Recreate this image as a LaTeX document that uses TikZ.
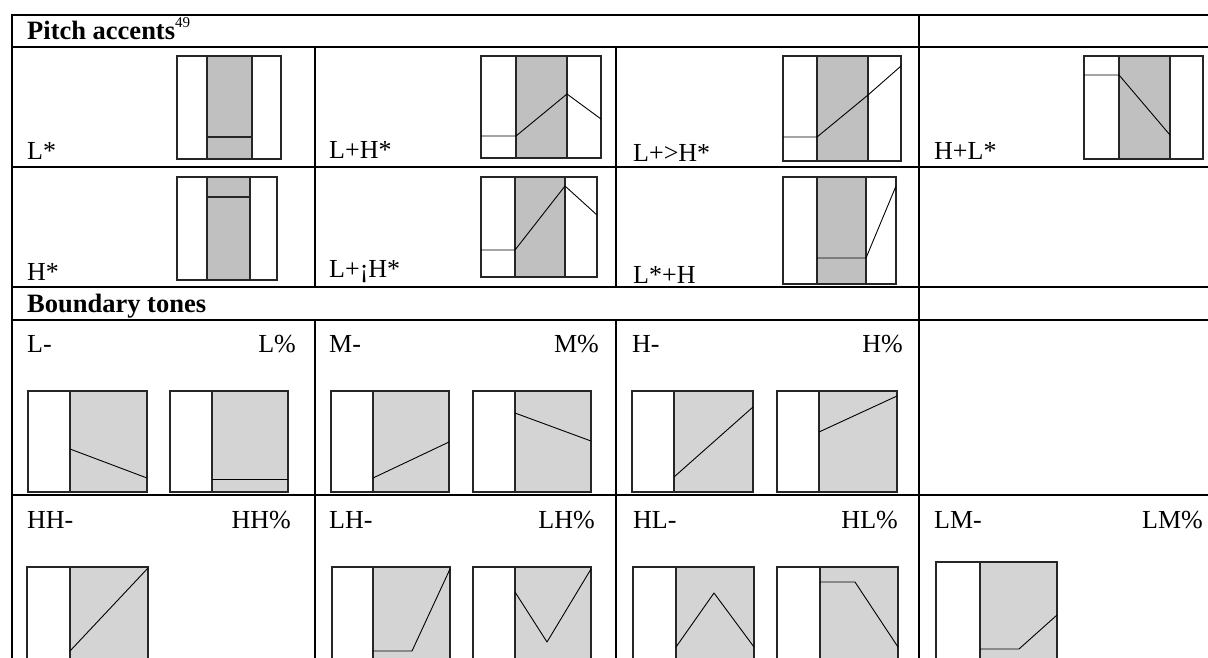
\documentclass[tikz,border=0pt]{standalone}
\usepackage{fontspec}
\setmainfont{Liberation Serif}
\definecolor{pagray}{HTML}{C0C0C0}
\definecolor{btgray}{HTML}{D4D4D4}
% pitch-accent frame: x1 x2 y1 y2, shaded column g1..g2
\newcommand\pabox[6]{%
  \fill[pagray] (#5,#3) rectangle (#6,#4);
  \draw[frame] (#1,#3) rectangle (#2,#4);
  \draw[frame] (#5,#3) -- (#5,#4) (#6,#3) -- (#6,#4);
}
% boundary-tone frame: x1 x2 y1 y2, shaded from g to the right edge
\newcommand\btbox[5]{%
  \fill[btgray] (#5,#3) rectangle (#2,#4);
  \draw[frame] (#1,#3) rectangle (#2,#4);
  \draw[frame] (#5,#3) -- (#5,#4);
}
\begin{document}
\begin{tikzpicture}[x=1pt,y=-1pt,
  rule/.style={line width=1.6pt},
  frame/.style={draw=black!85, line width=1.1pt},
  contour/.style={draw=black, line width=0.9pt, line join=round},
  lab/.style={inner sep=0pt, font=\fontsize{26}{30}\selectfont},
  head/.style={inner sep=0pt, font=\fontsize{26.5}{30}\selectfont\bfseries},
]
\useasboundingbox (0,0) rectangle (1208,657);
\clip (0,0) rectangle (1208,657);

% ---- table rules ----
\foreach \yy in {15,47,167,287,320,495}
  \draw[rule] (12,\yy) -- (1210,\yy);
\draw[rule] (12,14.2) -- (12,660);
\draw[rule] (919,14.2) -- (919,660);
\foreach \xx in {315,616} {
  \draw[rule] (\xx,47) -- (\xx,287);
  \draw[rule] (\xx,320) -- (\xx,660);
}

% ---- headers ----
\node[head, anchor=base west] (pitchhead) at (27,39.5)
  {Pitch accents\raisebox{12pt}{\fontsize{15}{15}\selectfont\mdseries 49}};
\node[head, anchor=base west] (boundhead) at (27,312) {Boundary tones};

% ---- pitch accents, first row ----
\node[lab, anchor=base west] (lstar) at (27,159) {L*};
\pabox{177}{281}{56}{159}{207}{252}
\draw[frame] (207,137) -- (252,137);

\node[lab, anchor=base west] (lhstar) at (329,158) {L+H*};
\pabox{481}{601}{56}{158}{516}{567}
\draw[contour] (481,136) -- (516,136) -- (567,94) -- (601,119);

\node[lab, anchor=base west] (lgthstar) at (633,161) {L+>H*};
\pabox{783}{901}{56}{161}{817}{868}
\draw[contour] (783,137) -- (817,137) -- (868,95) -- (901,66);

\node[lab, anchor=base west] (hlstar) at (934,159) {H+L*};
\pabox{1084}{1203}{56}{159}{1119}{1170}
\draw[contour] (1084,75) -- (1119,75) -- (1170,135);

% ---- pitch accents, second row ----
\node[lab, anchor=base west] (hstar) at (27,280) {H*};
\pabox{177}{277}{177}{280}{207}{250}
\draw[frame] (207,197) -- (250,197);

\node[lab, anchor=base west] (ldhstar) at (329,277) {L+¡H*};
\pabox{481}{597}{177}{277}{515}{565}
\draw[contour] (481,250) -- (515,250) -- (565,186) -- (597,215);

\node[lab, anchor=base west] (lstarh) at (633,283) {L*+H};
\pabox{783}{896}{177}{284}{817}{866}
\draw[contour] (817,258) -- (866,258) -- (896,186);

% ---- boundary tones, simple ----
\node[lab, anchor=base west] (lminus) at (27,352) {L-};
\node[lab, anchor=base east] (lpct) at (296,352) {L\%};
\btbox{28}{147}{391}{492}{70}
\draw[contour] (70,449) -- (147,478);
\btbox{170}{288}{391}{492}{212}
\draw[contour] (212,479) -- (288,479);

\node[lab, anchor=base west] (mminus) at (329,352) {M-};
\node[lab, anchor=base east] (mpct) at (599,352) {M\%};
\btbox{331}{449}{391}{492}{373}
\draw[contour] (373,478) -- (449,442);
\btbox{473}{591}{391}{492}{515}
\draw[contour] (515,413) -- (591,441);

\node[lab, anchor=base west] (hminus) at (632,352) {H-};
\node[lab, anchor=base east] (hpct) at (903,352) {H\%};
\btbox{632}{753}{391}{492}{674}
\draw[contour] (674,477) -- (753,407);
\btbox{777}{897}{391}{492}{819}
\draw[contour] (819,432) -- (897,396);

% ---- boundary tones, complex ----
\node[lab, anchor=base west] (hhminus) at (27,528) {HH-};
\node[lab, anchor=base east] (hhpct) at (291,528) {HH\%};
\btbox{27}{148}{567}{668}{70}
\draw[contour] (70,651) -- (148,568);

\node[lab, anchor=base west] (lhminus) at (329,528) {LH-};
\node[lab, anchor=base east] (lhpct) at (595,528) {LH\%};
\btbox{332}{450}{567}{668}{373}
\draw[contour] (373,651) -- (412,651) -- (450,569);
\btbox{473}{591}{567}{668}{515}
\draw[contour] (515,592) -- (547,642) -- (591,569);

\node[lab, anchor=base west] (hlminus) at (633,528) {HL-};
\node[lab, anchor=base east] (hlpct) at (898,528) {HL\%};
\btbox{633}{754}{567}{668}{676}
\draw[contour] (676,647) -- (714,593) -- (754,647);
\btbox{777}{898}{567}{668}{820}
\draw[contour] (820,582) -- (855,582) -- (898,647);

\node[lab, anchor=base west] (lmminus) at (934,528) {LM-};
\node[lab, anchor=base east] (lmpct) at (1203,528) {LM\%};
\btbox{936}{1057}{562}{668}{980}
\draw[contour] (980,649) -- (1019,649) -- (1057,615);
\end{tikzpicture}
\end{document}
